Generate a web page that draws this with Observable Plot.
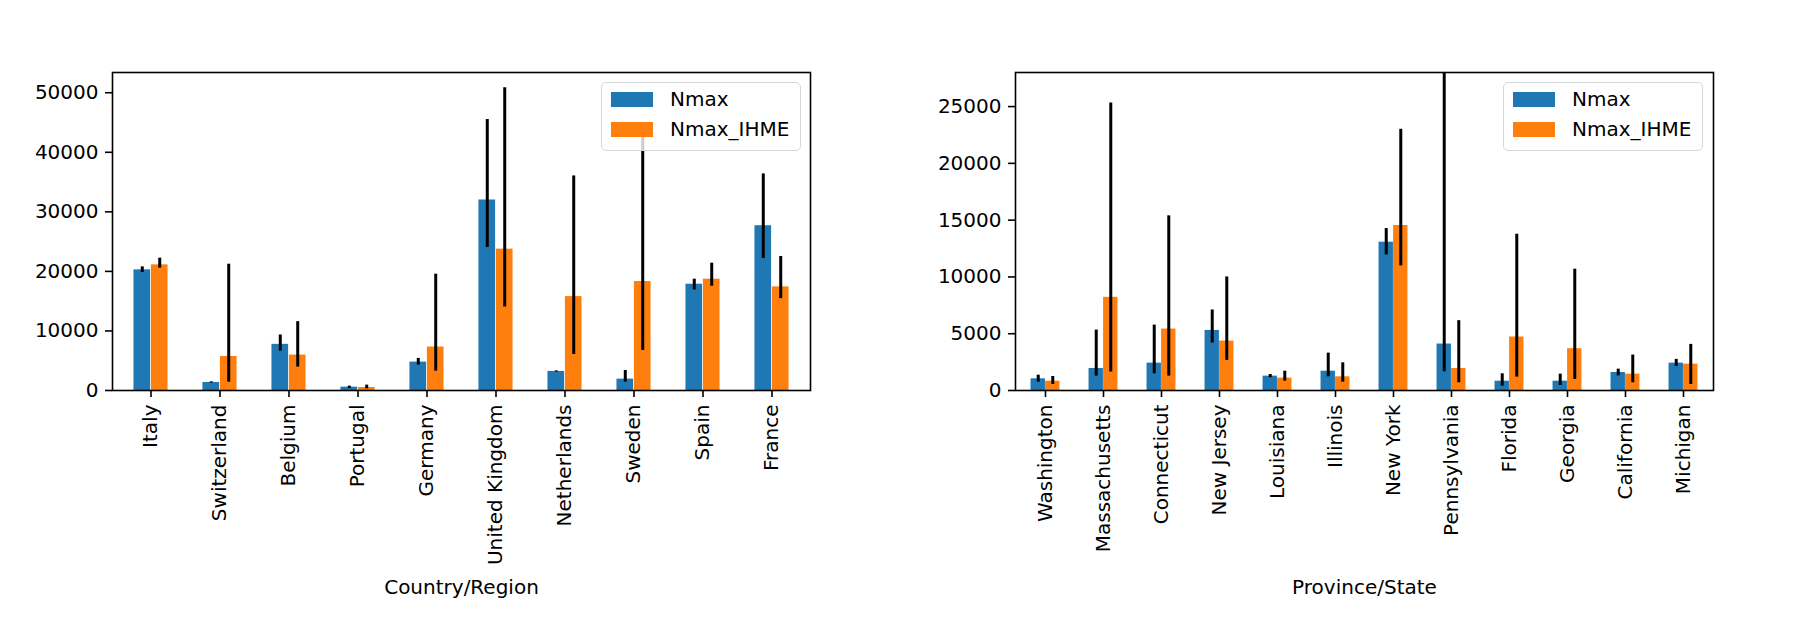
<!DOCTYPE html>
<html>
<head>
<meta charset="utf-8">
<script src="https://cdn.jsdelivr.net/npm/d3@7"></script>
<script src="https://cdn.jsdelivr.net/npm/@observablehq/plot@0.6"></script>
<style>
  html, body { margin: 0; padding: 0; background: white; }
  #wrap { position: relative; width: 1801px; height: 620px; font-family: "DejaVu Sans", sans-serif; }
  .panel { position: absolute; top: 0; }
  .legend { position: absolute; box-sizing: border-box; background: rgba(255,255,255,0.8);
            border: 1.5px solid #d6d6d6; border-radius: 5px; font-size: 20px; color: black; }
  .legend .sw { position: absolute; left: 9px; width: 42px; height: 15px; }
  .legend .lb { position: absolute; left: 68px; white-space: nowrap; line-height: 20px; }
</style>
</head>
<body>
<div id="wrap"></div>
<script>
// ---- Left panel: countries ----
const countries = ["Italy","Switzerland","Belgium","Portugal","Germany","United Kingdom","Netherlands","Sweden","Spain","France"];
const countryNmax   = [20260, 1350, 7750, 560, 4770, 31990, 3200, 1910, 17850, 27670];
const countryNmaxLo = [19810, 1250, 6620, 340, 4270, 24020, 3100, 1400, 16890, 22170];
const countryNmaxHi = [20760, 1450, 9320, 730, 5390, 45510, 3300, 3370, 18690, 36370];
const countryIhme   = [21100, 5720, 5950, 505, 7300, 23740, 15770, 18300, 18690, 17400];
const countryIhmeLo = [20540, 1400, 3930, 280, 3250, 14030, 6060, 6730, 17510, 15430];
const countryIhmeHi = [22220, 21210, 11560, 900, 19530, 50840, 36030, 43500, 21380, 22500];
const countryTicks  = [0, 10000, 20000, 30000, 40000, 50000];
const countryYMax   = 53400;

// ---- Right panel: US states ----
const states = ["Washington","Massachusetts","Connecticut","New Jersey","Louisiana","Illinois","New York","Pennsylvania","Florida","Georgia","California","Michigan"];
const stateNmax   = [1030, 1940, 2410, 5290, 1265, 1700, 13060, 4090, 820, 820, 1590, 2410];
const stateNmaxLo = [735, 1265, 1470, 4180, 1120, 1205, 11940, 1650, 380, 440, 1290, 2120];
const stateNmaxHi = [1350, 5320, 5760, 7090, 1410, 3290, 14260, 40000, 1470, 1440, 1880, 2740];
const stateIhme   = [820, 8205, 5410, 4350, 1090, 1205, 14530, 1940, 4710, 3680, 1440, 2320];
const stateIhmeLo = [530, 1620, 1265, 2650, 820, 735, 10970, 680, 1180, 970, 680, 530];
const stateIhmeHi = [1235, 25320, 15380, 10000, 1700, 2440, 23000, 6150, 13760, 10680, 3120, 4060];
const stateTicks  = [0, 5000, 10000, 15000, 20000, 25000];
const stateYMax   = 28000;

const seriesNames = ["Nmax", "Nmax_IHME"];
const seriesColors = ["#1f77b4", "#ff7f0e"];

function chart(cats, n, nlo, nhi, h, hlo, hhi, yMax, yTicks, label, width, ml, mr) {
  const data = cats.map((c, i) => ({c, n: n[i], nlo: nlo[i], nhi: nhi[i], h: h[i], hlo: hlo[i], hhi: hhi[i]}));
  const bw = (width - ml - mr) / cats.length;
  return Plot.plot({
    width, height: 620,
    marginTop: 72, marginBottom: 230, marginLeft: ml, marginRight: mr,
    style: {fontFamily: "DejaVu Sans", fontSize: "20px", color: "black", background: "white", overflow: "visible"},
    x: {domain: cats, padding: 0},
    y: {domain: [0, yMax]},
    marks: [
      Plot.barY(data, {x: "c", y: "n", fill: seriesColors[0], insetLeft: bw / 4, insetRight: bw / 2}),
      Plot.barY(data, {x: "c", y: "h", fill: seriesColors[1], insetLeft: bw / 2, insetRight: bw / 4}),
      Plot.ruleX(data, {x: "c", y1: "nlo", y2: "nhi", dx: -bw / 8, stroke: "black", strokeWidth: 3, clip: true}),
      Plot.ruleX(data, {x: "c", y1: "hlo", y2: "hhi", dx: bw / 8, stroke: "black", strokeWidth: 3, clip: true}),
      Plot.frame({stroke: "black", strokeWidth: 1.6}),
      Plot.axisY({ticks: yTicks, tickFormat: d3.format("d"), tickSize: 7, tickPadding: 7, label: null,
                  strokeWidth: 1.6, fontSize: 20}),
      Plot.axisX({tickRotate: -90, tickSize: 7, tickPadding: 7, strokeWidth: 1.6, fontSize: 20,
                  label, labelAnchor: "center", labelOffset: 203})
    ]
  });
}

function legend(left, top) {
  const lg = document.createElement("div");
  lg.className = "legend";
  Object.assign(lg.style, {left: left + "px", top: top + "px", width: "200px", height: "69px"});
  seriesNames.forEach((name, i) => {
    const sw = document.createElement("div");
    sw.className = "sw";
    Object.assign(sw.style, {top: (9 + 30 * i) + "px", background: seriesColors[i]});
    const lb = document.createElement("div");
    lb.className = "lb";
    lb.style.top = (6 + 30 * i) + "px";
    lb.textContent = name;
    lg.appendChild(sw);
    lg.appendChild(lb);
  });
  return lg;
}

const wrap = document.getElementById("wrap");
const left = chart(countries, countryNmax, countryNmaxLo, countryNmaxHi, countryIhme, countryIhmeLo, countryIhmeHi,
                   countryYMax, countryTicks, "Country/Region", 900, 112, 90);
left.classList.add("panel");
left.style.left = "0px";
const right = chart(states, stateNmax, stateNmaxLo, stateNmaxHi, stateIhme, stateIhmeLo, stateIhmeHi,
                    stateYMax, stateTicks, "Province/State", 901, 115, 88);
right.classList.add("panel");
right.style.left = "900px";
wrap.appendChild(left);
wrap.appendChild(right);
wrap.appendChild(legend(601, 82));
wrap.appendChild(legend(1503, 82));
</script>
</body>
</html>
